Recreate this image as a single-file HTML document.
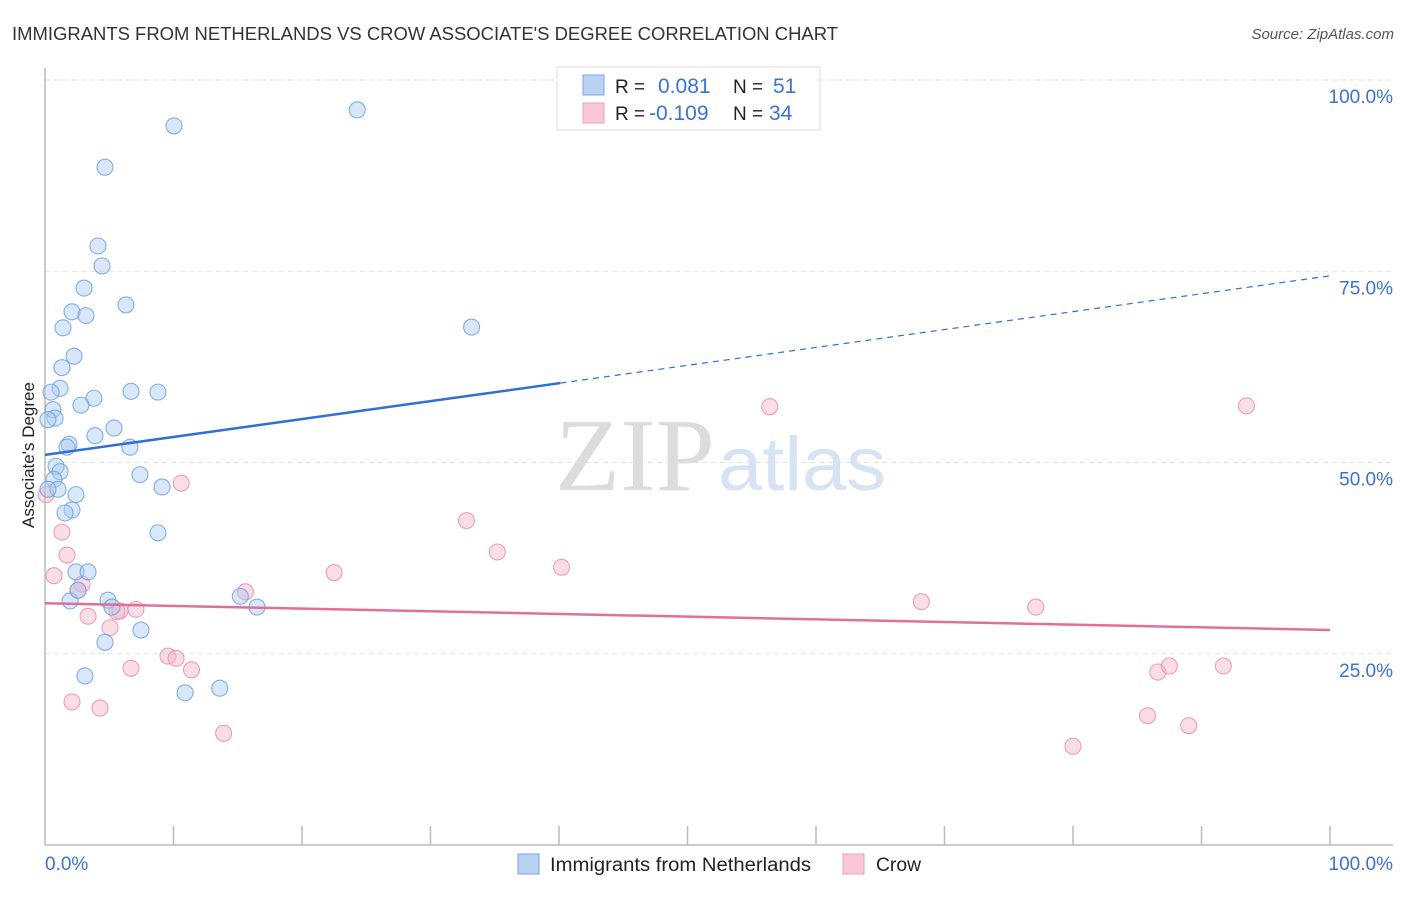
<!DOCTYPE html>
<html><head><meta charset="utf-8">
<style>
body{margin:0;background:#fff;font-family:"Liberation Sans",sans-serif;}
svg text{font-family:"Liberation Sans",sans-serif;}
</style></head>
<body>
<svg id="chart" width="1406" height="892" xmlns="http://www.w3.org/2000/svg">
<text x="12" y="40" font-size="18" fill="#333" textLength="826" lengthAdjust="spacingAndGlyphs">IMMIGRANTS FROM NETHERLANDS VS CROW ASSOCIATE'S DEGREE CORRELATION CHART</text>
<text x="1394" y="39" font-size="15" fill="#555" text-anchor="end" font-style="italic">Source: ZipAtlas.com</text>
<g>
<text x="555" y="490" font-size="104" fill="#dcdcdc" textLength="160" lengthAdjust="spacingAndGlyphs" style="font-family:'Liberation Serif',serif">ZIP</text>
<text x="718" y="490" font-size="76" fill="#d6e3f3" textLength="168" lengthAdjust="spacingAndGlyphs">atlas</text>
</g>
<g id="grid"></g>
<g id="axes"></g>
<g id="marks"></g>
<text transform="translate(34,455) rotate(-90)" font-size="17" fill="#222" text-anchor="middle">Associate's Degree</text>
<g>
<rect x="557" y="67" width="263" height="63" fill="#fff" stroke="#ddd"/>
<rect x="583" y="75" width="21" height="20" fill="#b8d2f4" stroke="#7aa6e0"/>
<rect x="583" y="103" width="21" height="20" fill="#f9c8d6" stroke="#eea0b8"/>
<text x="615" y="93" font-size="19" fill="#222">R = </text><text x="658" y="93" font-size="21" fill="#3a73d0">0.081</text>
<text x="733" y="93" font-size="19" fill="#222">N = </text><text x="773" y="93" font-size="21" fill="#3a73d0">51</text>
<text x="615" y="120" font-size="19" fill="#222">R = </text><text x="649" y="120" font-size="21" fill="#3a73d0">-0.109</text>
<text x="733" y="120" font-size="19" fill="#222">N = </text><text x="769" y="120" font-size="21" fill="#3a73d0">34</text>
</g>
<g>
<rect x="518" y="854" width="21" height="20" fill="#b8d2f4" stroke="#7aa6e0"/>
<text x="550" y="871" font-size="19" fill="#222" textLength="261" lengthAdjust="spacingAndGlyphs">Immigrants from Netherlands</text>
<rect x="843" y="854" width="21" height="20" fill="#f9c8d6" stroke="#eea0b8"/>
<text x="876" y="871" font-size="19" fill="#222" textLength="45" lengthAdjust="spacingAndGlyphs">Crow</text>
</g>
</svg>
<script>
const blueX=[10.04,24.3,4.67,4.12,4.44,3.04,6.30,2.10,3.19,1.40,2.26,1.32,1.17,0.47,3.81,2.80,0.62,0.78,0.23,5.37,3.89,1.87,1.71,6.61,6.69,8.79,0.86,1.17,0.70,7.39,9.11,1.01,2.41,0.23,2.10,1.56,8.79,2.41,3.35,1.95,4.90,5.21,15.2,16.5,7.47,4.67,3.11,10.9,13.6,33.2,2.57];
const blueY=[94.0,96.1,88.6,78.3,75.7,72.8,70.6,69.7,69.2,67.6,63.9,62.4,59.7,59.2,58.4,57.5,56.9,55.8,55.6,54.5,53.5,52.4,52.0,52.0,59.3,59.2,49.5,48.8,47.8,48.4,46.8,46.5,45.8,46.5,43.8,43.4,40.8,35.7,35.7,31.9,32.0,31.1,32.5,31.1,28.1,26.5,22.1,19.9,20.5,67.7,33.3];
const pinkX=[0.08,1.32,1.71,0.70,2.88,2.57,3.35,5.06,5.84,7.08,6.69,9.57,10.2,11.4,10.6,13.9,15.6,22.5,32.8,35.2,40.2,56.4,68.2,77.1,80.0,85.8,86.6,87.5,89.0,91.7,93.5,2.10,4.28,5.60];
const pinkY=[45.8,40.9,37.9,35.2,34.1,33.3,29.9,28.4,30.6,30.8,23.1,24.7,24.4,22.9,47.3,14.6,33.1,35.6,42.4,38.3,36.3,57.3,31.8,31.1,12.9,16.9,22.6,23.4,15.6,23.4,57.4,18.7,17.9,30.5];
const blueTrend=[51.0,74.4];
const pinkTrend=[31.6,28.1];
const yTicks=[25,50,75,100];
const yTickLabels=["25.0%","50.0%","75.0%","100.0%"];
const xTickLabels=["0.0%","100.0%"];

const NS="http://www.w3.org/2000/svg";
const X=v=>45+v*12.85, Y=v=>845-v*7.65;
function mk(tag,attrs,parent){const e=document.createElementNS(NS,tag);for(const k in attrs)e.setAttribute(k,attrs[k]);parent.appendChild(e);return e;}
const grid=document.getElementById('grid'),axes=document.getElementById('axes'),marks=document.getElementById('marks');
yTicks.forEach((t,i)=>{
 const l=mk('line',{x1:45,x2:1393,y1:Y(t),y2:Y(t),stroke:'#e2e2e2','stroke-dasharray':'5,4'},grid);
 
 
 const tx=mk('text',{x:1393,y:Y(t)+23,'font-size':19,fill:'#3a73d0','text-anchor':'end'},axes);
 tx.textContent=yTickLabels[i];
 
 
});
const ya=mk('line',{x1:45,x2:45,y1:68,y2:845,stroke:'#bbb','stroke-width':1.5},axes);


const xa=mk('line',{x1:45,x2:1393,y1:845,y2:845,stroke:'#bbb','stroke-width':1.5},axes);


for(let k=1;k<=10;k++){
 const t=mk('line',{x1:X(k*10),x2:X(k*10),y1:826,y2:845,stroke:'#bbb','stroke-width':1.5},axes);
 
 
}
const xl0=mk('text',{x:45,y:870,'font-size':19,fill:'#3a73d0'},axes);xl0.textContent=xTickLabels[0];


const xl1=mk('text',{x:1393,y:870,'font-size':19,fill:'#3a73d0','text-anchor':'end'},axes);xl1.textContent=xTickLabels[1];



function dots(xs,ys,fill,stroke,name){xs.forEach((x,i)=>{
 const c=mk('circle',{cx:X(x),cy:Y(ys[i]),r:8,fill:fill,'fill-opacity':0.45,stroke:stroke,'stroke-opacity':0.8,'stroke-width':1.1},marks);
 
 
});}
dots(pinkX,pinkY,'#f5b3c8','#e88aaa','point-crow');
dots(blueX,blueY,'#a9c9f2','#6a9edb','point-netherlands');
const bMid=40.1, bMidY=blueTrend[0]+(blueTrend[1]-blueTrend[0])*bMid/100;
const b1=mk('line',{x1:X(0),y1:Y(blueTrend[0]),x2:X(bMid),y2:Y(bMidY),stroke:'#2f6fd6','stroke-width':2.5},marks);


const b2=mk('line',{x1:X(bMid),y1:Y(bMidY),x2:X(100),y2:Y(blueTrend[1]),stroke:'#2f6fd6','stroke-width':1.2,'stroke-dasharray':'6,5'},marks);


const p1=mk('line',{x1:X(0),y1:Y(pinkTrend[0]),x2:X(100),y2:Y(pinkTrend[1]),stroke:'#e0709a','stroke-width':2.5},marks);


</script>
</body></html>
